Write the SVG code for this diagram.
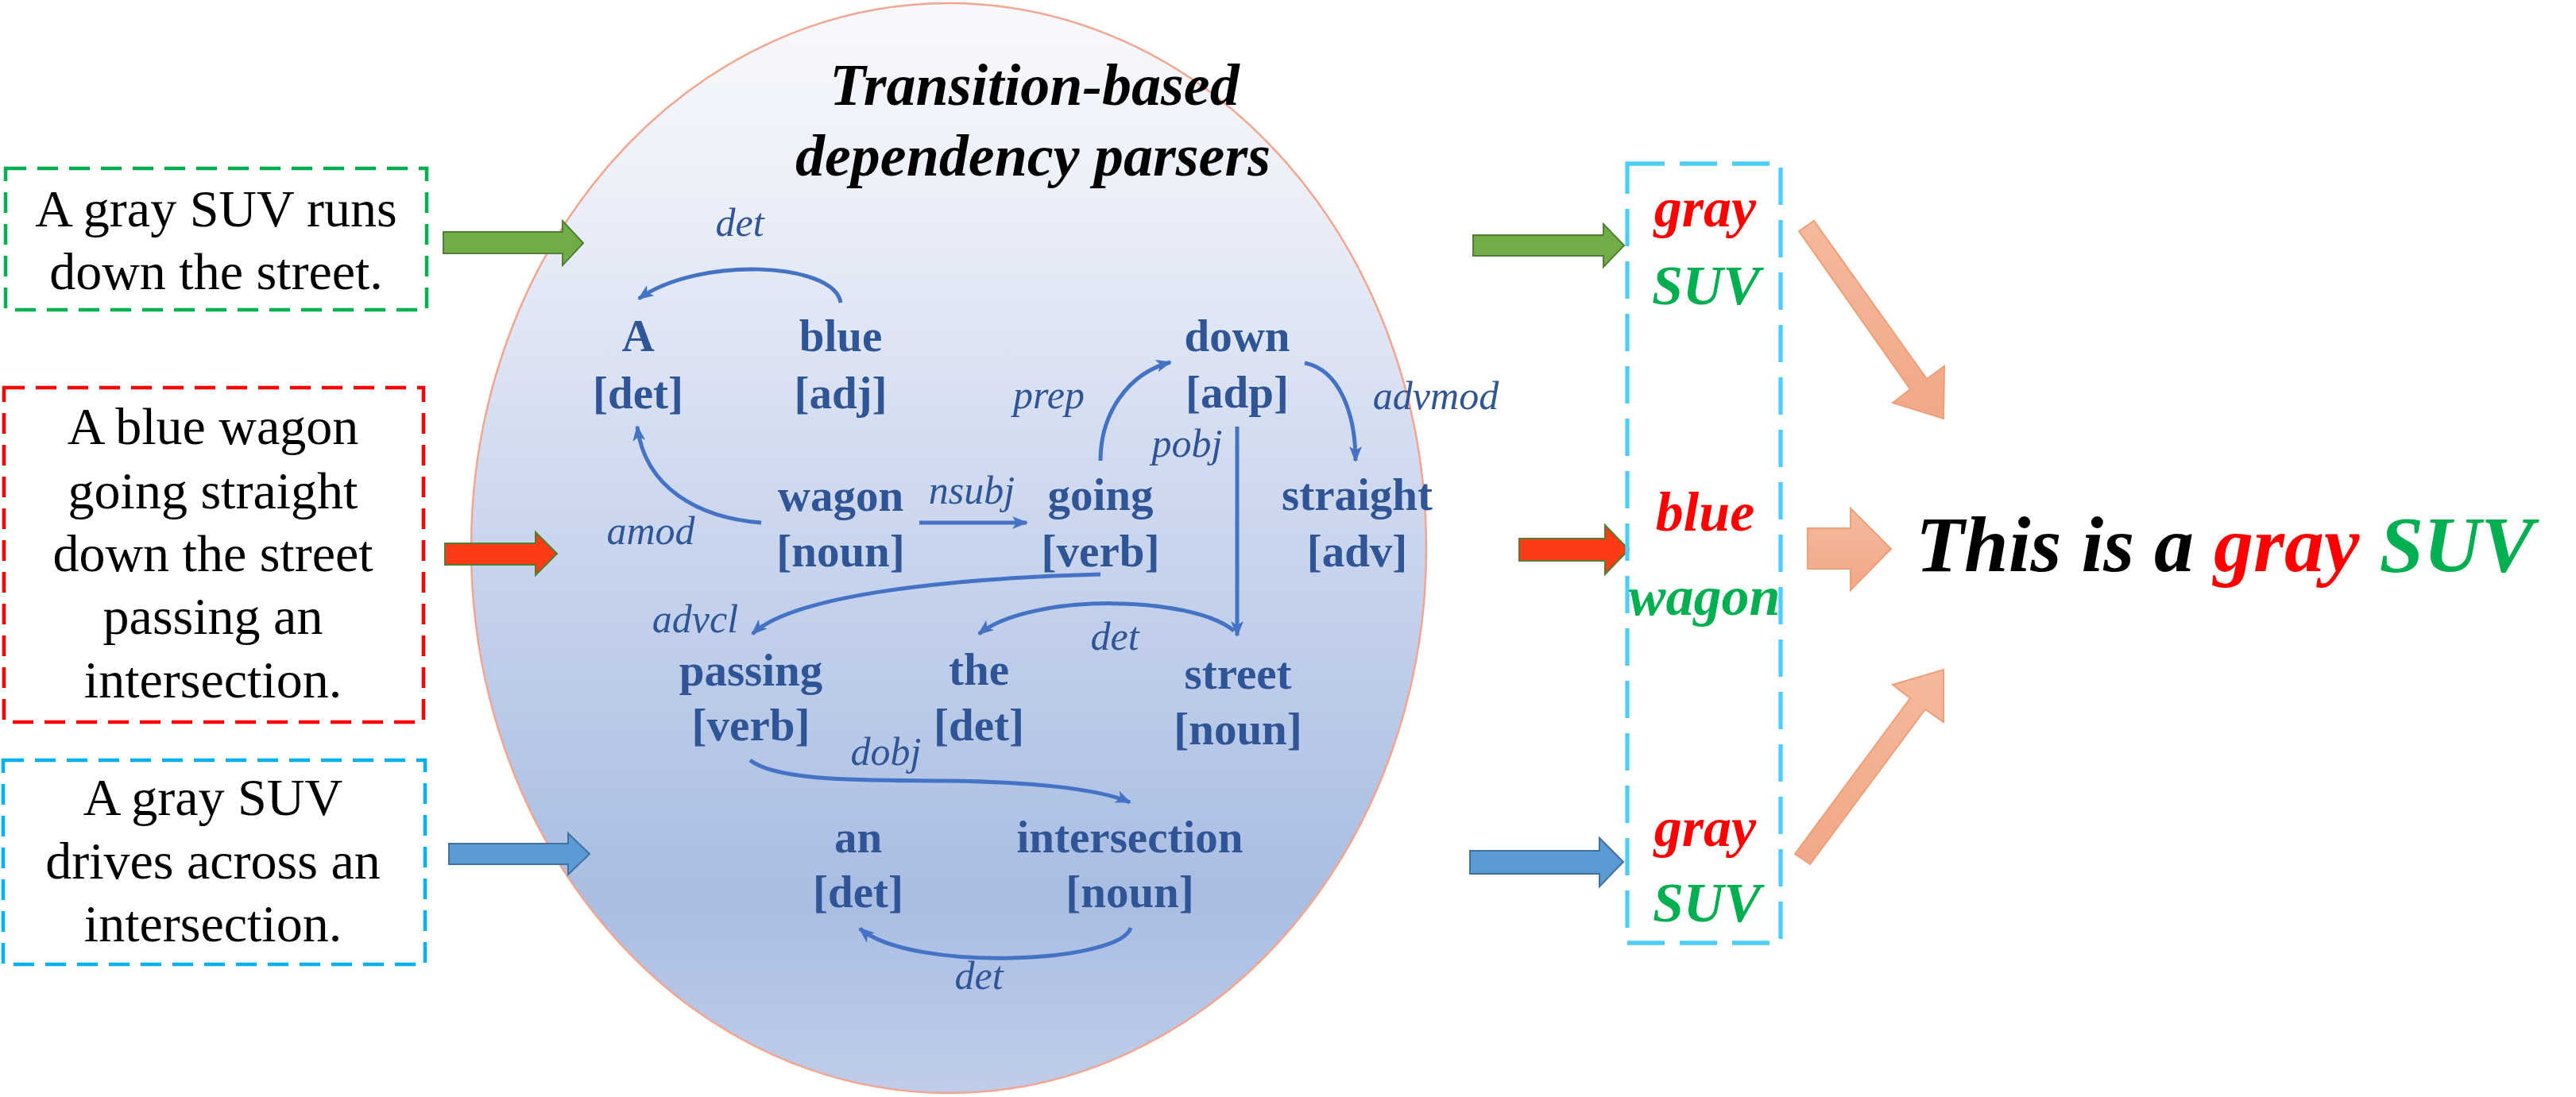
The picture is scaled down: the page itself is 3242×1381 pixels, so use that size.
<svg xmlns="http://www.w3.org/2000/svg" width="3242" height="1381" viewBox="0 0 3242 1381" font-family="Liberation Serif, serif">
<defs>
<linearGradient id="cg" x1="0" y1="0" x2="0" y2="1">
<stop offset="0" stop-color="#f8f9fd"/>
<stop offset="0.15" stop-color="#eef1f9"/>
<stop offset="0.5" stop-color="#c9d5ed"/>
<stop offset="0.82" stop-color="#a9bde3"/>
<stop offset="1" stop-color="#bfcdea"/>
</linearGradient>
<linearGradient id="sg" x1="0" y1="0" x2="0" y2="1">
<stop offset="0" stop-color="#f5b99c"/>
<stop offset="1" stop-color="#f1a888"/>
</linearGradient>
<marker id="ah" viewBox="0 0 20 16" refX="18" refY="8" markerWidth="20" markerHeight="16" markerUnits="userSpaceOnUse" orient="auto">
<path d="M0,0 L20,8 L0,16 L5,8 z" fill="#4472c4"/>
</marker>
<style>
.box{fill:#fff;stroke-width:4.5;stroke-dasharray:26 14}
.in{font-size:66px;fill:#000;text-anchor:middle}
.node{font-size:57px;font-weight:bold;fill:#2f5597;text-anchor:middle}
.lab{font-size:50px;font-style:italic;fill:#2f5597;text-anchor:middle}
.title{font-size:74px;font-weight:bold;font-style:italic;fill:#000;text-anchor:middle}
.out{font-size:70px;font-weight:bold;font-style:italic;text-anchor:middle}
.red{fill:#ff0000}
.grn{fill:#00b050}
.edge{fill:none;stroke:#4472c4;stroke-width:5;marker-end:url(#ah)}
.sal{fill:url(#sg);stroke:#ef9f78;stroke-width:2}
</style>
</defs>
<rect width="3242" height="1381" fill="#fff"/>

<g id="parser">
<ellipse cx="1194" cy="690" rx="601" ry="686" fill="url(#cg)" stroke="#f4a590" stroke-width="2.5"/>
<text class="title" font-family="Liberation Serif" x="1302" y="132">Transition-based</text>
<text class="title" font-family="Liberation Serif" x="1300" y="221">dependency parsers</text>
</g>

<g id="input1">
<rect class="box" x="7" y="212" width="530" height="178" stroke="#00b050"/>
<text class="in" font-family="Liberation Serif" x="272" y="285">A gray SUV runs</text>
<text class="in" font-family="Liberation Serif" x="272" y="364">down the street.</text>
</g>
<g id="input2">
<rect class="box" x="5" y="488" width="528" height="421" stroke="#ff0000"/>
<text class="in" font-family="Liberation Serif" x="268" y="559">A blue wagon</text>
<text class="in" font-family="Liberation Serif" x="268" y="640">going straight</text>
<text class="in" font-family="Liberation Serif" x="268" y="719">down the street</text>
<text class="in" font-family="Liberation Serif" x="268" y="798">passing an</text>
<text class="in" font-family="Liberation Serif" x="268" y="878">intersection.</text>
</g>
<g id="input3">
<rect class="box" x="4" y="957" width="531" height="257" stroke="#00b0f0"/>
<text class="in" font-family="Liberation Serif" x="268" y="1026">A gray SUV</text>
<text class="in" font-family="Liberation Serif" x="268" y="1106">drives across an</text>
<text class="in" font-family="Liberation Serif" x="268" y="1185">intersection.</text>
</g>

<g id="n-A"><text class="node" font-family="Liberation Serif" x="803" y="442">A</text><text class="node" font-family="Liberation Serif" x="803" y="514">[det]</text></g>
<g id="n-blue"><text class="node" font-family="Liberation Serif" x="1058" y="442">blue</text><text class="node" font-family="Liberation Serif" x="1058" y="514">[adj]</text></g>
<g id="n-down"><text class="node" font-family="Liberation Serif" x="1557" y="442">down</text><text class="node" font-family="Liberation Serif" x="1557" y="513">[adp]</text></g>
<g id="n-wagon"><text class="node" font-family="Liberation Serif" x="1058" y="643">wagon</text><text class="node" font-family="Liberation Serif" x="1058" y="713">[noun]</text></g>
<g id="n-going"><text class="node" font-family="Liberation Serif" x="1385" y="642">going</text><text class="node" font-family="Liberation Serif" x="1385" y="713">[verb]</text></g>
<g id="n-straight"><text class="node" font-family="Liberation Serif" x="1708" y="642">straight</text><text class="node" font-family="Liberation Serif" x="1708" y="713">[adv]</text></g>
<g id="n-passing"><text class="node" font-family="Liberation Serif" x="945" y="863">passing</text><text class="node" font-family="Liberation Serif" x="945" y="932">[verb]</text></g>
<g id="n-the"><text class="node" font-family="Liberation Serif" x="1232" y="862">the</text><text class="node" font-family="Liberation Serif" x="1232" y="932">[det]</text></g>
<g id="n-street"><text class="node" font-family="Liberation Serif" x="1558" y="867">street</text><text class="node" font-family="Liberation Serif" x="1558" y="937">[noun]</text></g>
<g id="n-an"><text class="node" font-family="Liberation Serif" x="1080" y="1073">an</text><text class="node" font-family="Liberation Serif" x="1080" y="1142">[det]</text></g>
<g id="n-intersection"><text class="node" font-family="Liberation Serif" x="1422" y="1073">intersection</text><text class="node" font-family="Liberation Serif" x="1422" y="1142">[noun]</text></g>

<g id="connectors">
<path class="edge" d="M1058,381 C1050,330 880,322 804,376"/>
<path class="edge" d="M958,658 C880,652 812,615 802,537"/>
<path class="edge" d="M1157,658 L1292,658"/>
<path class="edge" d="M1385,580 C1385,520 1420,470 1473,456"/>
<path class="edge" d="M1642,457 C1685,465 1706,520 1706,580"/>
<path class="edge" d="M1557,537 L1557,800"/>
<path class="edge" d="M1385,723 C1200,728 1000,748 947,798"/>
<path class="edge" d="M1553,794 C1500,750 1300,745 1232,798"/>
<path class="edge" d="M944,957 C980,985 1100,982 1190,983 C1290,984 1380,992 1422,1010"/>
<path class="edge" d="M1423,1168 C1410,1212 1150,1225 1082,1169"/>
<text class="lab" font-family="Liberation Serif" x="931" y="297">det</text>
<text class="lab" font-family="Liberation Serif" x="1320" y="514">prep</text>
<text class="lab" font-family="Liberation Serif" x="1494" y="575">pobj</text>
<text class="lab" font-family="Liberation Serif" x="1223" y="634">nsubj</text>
<text class="lab" font-family="Liberation Serif" x="819" y="685">amod</text>
<text class="lab" font-family="Liberation Serif" x="1807" y="515">advmod</text>
<text class="lab" font-family="Liberation Serif" x="875" y="796">advcl</text>
<text class="lab" font-family="Liberation Serif" x="1403" y="818">det</text>
<text class="lab" font-family="Liberation Serif" x="1115" y="963">dobj</text>
<text class="lab" font-family="Liberation Serif" x="1232" y="1245">det</text>

<polygon points="558,292 708,292 708,278 734,306 708,334 708,319 558,319" fill="#70ad47" stroke="#507e32" stroke-width="2"/>
<polygon points="560,684 674,684 674,670 701,697 674,724 674,711 560,711" fill="#fc3c14" stroke="#507e32" stroke-width="2"/>
<polygon points="565,1062 715,1062 715,1049 742,1075 715,1101 715,1088 565,1088" fill="#5b9bd5" stroke="#41719c" stroke-width="2"/>
<polygon points="1854,296 2018,296 2018,282 2044,309 2018,336 2018,322 1854,322" fill="#70ad47" stroke="#507e32" stroke-width="2"/>
<polygon points="1912,678 2020,678 2020,661 2050,692 2020,723 2020,706 1912,706" fill="#fc3c14" stroke="#507e32" stroke-width="2"/>
<polygon points="1850,1071 2013,1071 2013,1055 2043,1085 2013,1116 2013,1100 1850,1100" fill="#5b9bd5" stroke="#41719c" stroke-width="2"/>
<polygon class="sal" points="2264,291 2283,278 2425,477 2447,461 2446,527 2382,507 2404,490"/>
<polygon class="sal" points="2275,665 2329,665 2329,640 2380,691 2329,743 2329,716 2275,716"/>
<polygon class="sal" points="2259,1075 2404,879 2382,862 2446,843 2446,909 2423,893 2278,1088"/>
</g>

<g id="outputs">
<rect x="2048" y="206" width="193" height="981" fill="none" stroke="#4dcdfa" stroke-width="5.3" stroke-dasharray="47 19"/>
<text class="out red" font-family="Liberation Serif" x="2146" y="285">gray</text>
<text class="out grn" font-family="Liberation Serif" x="2147" y="383">SUV</text>
<text class="out red" font-family="Liberation Serif" x="2146" y="668">blue</text>
<text class="out grn" font-family="Liberation Serif" x="2145" y="774">wagon</text>
<text class="out red" font-family="Liberation Serif" x="2146" y="1065">gray</text>
<text class="out grn" font-family="Liberation Serif" x="2148" y="1160">SUV</text>
</g>

<g id="result">
<text x="2411" y="719" font-family="Liberation Serif" font-size="100" font-weight="bold" font-style="italic">This is a <tspan fill="#ff0000">gray</tspan> <tspan fill="#00b050">SUV</tspan></text>
</g>
</svg>
